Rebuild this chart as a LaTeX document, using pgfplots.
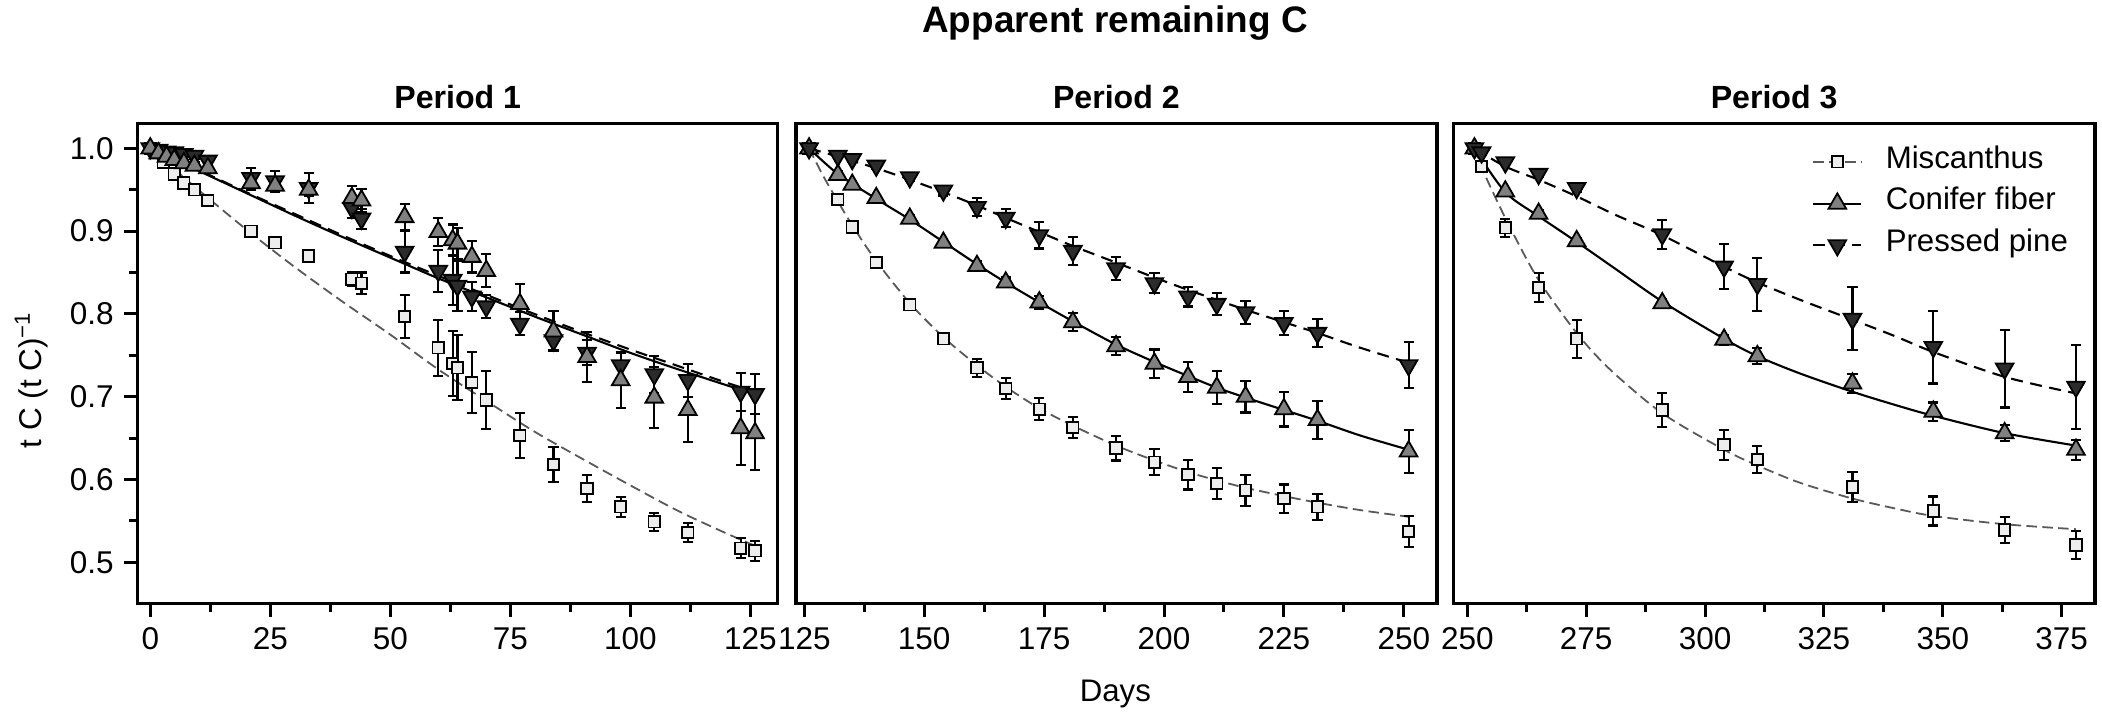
\documentclass[border=0pt]{standalone}
\usepackage{fontspec}
\setmainfont{Liberation Sans}
\usepackage{pgfplots}
\pgfplotsset{compat=1.18}
\usepackage{pgfplotstable}

\definecolor{miscfill}{gray}{0.93}
\definecolor{conifill}{gray}{0.50}
\definecolor{pinefill}{gray}{0.17}
\definecolor{miscline}{gray}{0.35}

% ---------------- Period 1 ----------------
\pgfplotstableread{
x y e
0 1.000 0.002
2.7 0.983 0.004
5 0.969 0.004
7 0.958 0.004
9.2 0.950 0.004
12 0.937 0.004
21 0.900 0.005
26 0.886 0.005
33 0.870 0.005
42 0.842 0.008
44 0.837 0.013
53 0.797 0.026
60 0.759 0.034
63 0.740 0.039
64 0.735 0.039
67 0.717 0.037
70 0.696 0.035
77 0.653 0.027
84 0.618 0.021
91 0.589 0.016
98 0.567 0.012
105 0.549 0.011
112 0.536 0.012
123 0.517 0.012
126 0.514 0.012
}\MiscA
\pgfplotstableread{
x y e
0 1.000 0.003
1.7 0.994 0.003
3.4 0.990 0.003
5 0.986 0.004
7 0.982 0.004
9.2 0.979 0.004
12 0.976 0.004
21 0.958 0.008
26 0.955 0.008
33 0.950 0.008
42 0.940 0.014
44 0.937 0.014
53 0.917 0.016
60 0.899 0.017
63 0.889 0.019
64 0.885 0.019
67 0.869 0.019
70 0.852 0.020
77 0.812 0.024
84 0.779 0.024
91 0.748 0.030
98 0.720 0.034
105 0.699 0.037
112 0.684 0.039
123 0.662 0.045
126 0.656 0.044
}\ConiA
\pgfplotstableread{
x y e
0 1.000 0.003
1.7 0.998 0.003
3.4 0.996 0.003
5 0.995 0.003
7 0.993 0.004
9.2 0.991 0.004
12 0.985 0.005
21 0.964 0.012
26 0.960 0.013
33 0.952 0.018
42 0.928 0.012
44 0.915 0.012
53 0.875 0.025
60 0.852 0.025
63 0.841 0.030
64 0.834 0.030
67 0.821 0.018
70 0.809 0.014
77 0.788 0.014
84 0.768 0.012
91 0.753 0.015
98 0.738 0.015
105 0.727 0.022
112 0.720 0.020
123 0.706 0.023
126 0.703 0.024
}\PineA
\pgfplotstableread{
x y
0 1.000
10 0.950
20 0.902
30 0.857
40 0.815
50 0.775
60 0.733
70 0.695
80 0.658
90 0.625
100 0.593
110 0.562
120 0.535
126 0.520
}\MiscFitA
\pgfplotstableread{
x y
0 1.000
10 0.973
20 0.946
30 0.919
40 0.893
50 0.868
60 0.843
70 0.820
80 0.797
90 0.775
100 0.753
110 0.733
120 0.714
126 0.703
}\ConiFitA
\pgfplotstableread{
x y
0 1.000
10 0.974
20 0.947
30 0.921
40 0.895
50 0.870
60 0.846
70 0.823
80 0.800
90 0.778
100 0.757
110 0.737
120 0.717
126 0.706
}\PineFitA

% ---------------- Period 2 ----------------
\pgfplotstableread{
x y e
126 1.000 0.003
132 0.938 0.004
135 0.905 0.004
140 0.862 0.004
147 0.811 0.005
154 0.770 0.006
161 0.735 0.011
167 0.710 0.013
174 0.685 0.013
181 0.663 0.013
190 0.638 0.015
198 0.621 0.016
205 0.606 0.018
211 0.595 0.019
217 0.587 0.019
225 0.577 0.017
232 0.567 0.016
251 0.537 0.019
}\MiscB
\pgfplotstableread{
x y e
126 1.000 0.003
132 0.968 0.004
135 0.956 0.004
140 0.940 0.004
147 0.915 0.005
154 0.886 0.005
161 0.858 0.006
167 0.838 0.006
174 0.814 0.008
181 0.790 0.011
190 0.761 0.011
198 0.740 0.017
205 0.724 0.018
211 0.711 0.020
217 0.700 0.019
225 0.685 0.021
232 0.672 0.023
251 0.634 0.026
}\ConiB
\pgfplotstableread{
x y e
126 1.000 0.003
132 0.991 0.003
135 0.987 0.003
140 0.979 0.004
147 0.965 0.004
154 0.949 0.006
161 0.929 0.011
167 0.916 0.011
174 0.895 0.016
181 0.876 0.017
190 0.855 0.014
198 0.837 0.012
205 0.821 0.012
211 0.812 0.013
217 0.802 0.014
225 0.789 0.015
232 0.777 0.017
251 0.738 0.028
}\PineB
\pgfplotstableread{
x y
126 1.000
129 0.966
132 0.936
135 0.907
140 0.864
147 0.813
154 0.772
161 0.738
167 0.712
174 0.686
181 0.665
190 0.641
198 0.623
205 0.609
211 0.599
217 0.590
225 0.580
232 0.572
241 0.563
251 0.555
}\MiscFitB
\pgfplotstableread{
x y
126 1.000
132 0.969
140 0.939
147 0.914
154 0.887
161 0.860
167 0.838
174 0.814
181 0.791
190 0.763
198 0.742
205 0.725
211 0.711
217 0.699
225 0.684
232 0.671
241 0.653
251 0.636
}\ConiFitB
\pgfplotstableread{
x y
126 1.000
132 0.990
140 0.976
147 0.962
154 0.947
161 0.931
167 0.916
174 0.899
181 0.882
190 0.862
198 0.844
205 0.829
211 0.817
217 0.805
225 0.790
232 0.777
241 0.759
251 0.741
}\PineFitB

% ---------------- Period 3 ----------------
\pgfplotstableread{
x y e
251.5 1.000 0.003
253 0.978 0.004
258 0.904 0.011
265 0.832 0.0175
273 0.770 0.023
291 0.684 0.0205
304 0.642 0.018
311 0.624 0.0165
331 0.591 0.018
348 0.562 0.0175
363 0.539 0.016
378 0.521 0.017
}\MiscC
\pgfplotstableread{
x y e
251.5 1.000 0.003
258 0.948 0.004
265 0.921 0.004
273 0.888 0.004
291 0.813 0.005
304 0.769 0.006
311 0.749 0.010
331 0.716 0.011
348 0.682 0.011
363 0.656 0.010
378 0.636 0.012
}\ConiC
\pgfplotstableread{
x y e
251.5 1.000 0.003
253 0.995 0.003
258 0.983 0.003
265 0.969 0.004
273 0.952 0.005
291 0.896 0.0175
304 0.857 0.027
311 0.836 0.032
331 0.794 0.038
348 0.760 0.044
363 0.734 0.047
378 0.712 0.051
}\PineC
\pgfplotstableread{
x y
251.5 1.000
253 0.977
255.8 0.942
259.3 0.901
265 0.841
273 0.777
280 0.733
291 0.680
304 0.636
311 0.617
320 0.596
331 0.577
340 0.565
348 0.556
363 0.546
378 0.540
}\MiscFitC
\pgfplotstableread{
x y
251.5 1.000
258 0.947
265 0.918
273 0.887
281 0.855
291 0.815
304 0.770
311 0.749
320 0.728
331 0.706
340 0.690
348 0.677
363 0.656
378 0.641
}\ConiFitC
\pgfplotstableread{
x y
251.5 1.000
258 0.978
265 0.962
273 0.942
281 0.920
291 0.895
304 0.857
311 0.838
320 0.817
331 0.793
340 0.773
348 0.754
363 0.724
378 0.704
}\PineFitC

\pgfplotsset{
  panel/.style={
    scale only axis, height=160pt, anchor=south west,
    ymin=0.4505, ymax=1.0302,
    axis line style={line width=1.2pt},
    tick align=outside, tick pos=left,
    xtick distance=25, minor x tick num=1,
    major tick length=4.5pt, minor tick length=2.9pt,
    every tick/.style={black, line width=1pt},
    ticklabel style={font=\fontsize{10.5}{13}\selectfont},
    /pgf/number format/assume math mode=true,
    title style={font=\bfseries\fontsize{10.7}{13}\selectfont, anchor=base, at={(0.5,1)}, yshift=-1.2pt},
  },
  errb/.style={
    error bars/y dir=both, error bars/y explicit,
    error bars/error bar style={line width=0.7pt, black, solid},
    error bars/error mark options={rotate=90, mark size=1.7pt, line width=0.7pt, black, solid},
  },
  miscpts/.style={only marks, mark=square*, mark size=1.9pt,
    mark options={fill=miscfill, draw=black, line width=0.6pt, solid}, errb},
  conipts/.style={only marks, mark=triangle*, mark size=3.4pt,
    mark options={fill=conifill, draw=black, line width=0.6pt, solid}, errb},
  pinepts/.style={only marks, mark=triangle*, mark size=3.4pt,
    mark options={fill=pinefill, draw=black, line width=0.6pt, solid, rotate=180}, errb},
  miscfit/.style={no marks, smooth, color=miscline, line width=0.6pt, dash pattern=on 3.5pt off 1.8pt},
  conifit/.style={no marks, smooth, color=black, line width=0.7pt},
  pinefit/.style={no marks, smooth, color=black, line width=0.7pt, dash pattern=on 4pt off 2.5pt},
}

\begin{document}
\begin{tikzpicture}
\useasboundingbox (0pt,0pt) rectangle (700.67pt,242pt);

% Period 1
\begin{axis}[panel, at={(45.9pt,40.9pt)}, width=213.33pt,
  xmin=-2.62, xmax=130.71,
  ytick={0.5,0.6,0.7,0.8,0.9,1.0}, minor y tick num=1,
  yticklabel style={/pgf/number format/.cd, fixed, fixed zerofill, precision=1},
  title={Period 1}]
\addplot[miscfit, forget plot] table[x=x,y=y]{\MiscFitA};
\addplot[conifit, forget plot] table[x=x,y=y]{\ConiFitA};
\addplot[pinefit, forget plot] table[x=x,y=y]{\PineFitA};
\addplot[miscpts, forget plot] table[x=x,y=y,y error=e]{\MiscA};
\addplot[pinepts, forget plot] table[x=x,y=y,y error=e]{\PineA};
\addplot[conipts, forget plot] table[x=x,y=y,y error=e]{\ConiA};
\end{axis}

% Period 2
\begin{axis}[panel, at={(265.33pt,40.9pt)}, width=213.57pt,
  xmin=123.27, xmax=256.86,
  ytick=\empty, title={Period 2}]
\addplot[miscfit, forget plot] table[x=x,y=y]{\MiscFitB};
\addplot[conifit, forget plot] table[x=x,y=y]{\ConiFitB};
\addplot[pinefit, forget plot] table[x=x,y=y]{\PineFitB};
\addplot[miscpts, forget plot] table[x=x,y=y,y error=e]{\MiscB};
\addplot[conipts, forget plot] table[x=x,y=y,y error=e]{\ConiB};
\addplot[pinepts, forget plot] table[x=x,y=y,y error=e]{\PineB};
\end{axis}

% Period 3
\begin{axis}[panel, at={(484.43pt,40.9pt)}, width=213.9pt,
  xmin=247.06, xmax=382.0,
  ytick=\empty, title={Period 3},
  legend cell align=left,
  legend image code/.code={\draw[mark repeat=2,mark phase=2,#1] plot coordinates {(0pt,0pt) (8pt,0pt) (16pt,0pt)};},
  legend style={draw=none, fill=none, at={(0.5585,1)}, anchor=north west, yshift=-5.7pt,
    inner sep=0pt, row sep=0pt,
    nodes={inner sep=0pt, text height=9pt, text depth=4.9pt},
    font=\fontsize{10.4}{12}\selectfont,
    /tikz/every odd column/.append style={column sep=7.8pt}}]
\addlegendimage{color=miscline, line width=0.6pt, dash pattern=on 3.5pt off 1.8pt, mark=square*, mark size=1.9pt, mark options={fill=miscfill, draw=black, line width=0.6pt, solid}}
\addlegendentry{Miscanthus}
\addlegendimage{color=black, line width=0.7pt, mark=triangle*, mark size=3.4pt, mark options={fill=conifill, draw=black, line width=0.6pt, solid}}
\addlegendentry{Conifer fiber}
\addlegendimage{color=black, line width=0.7pt, dash pattern=on 4pt off 2.5pt, mark=triangle*, mark size=3.4pt, mark options={fill=pinefill, draw=black, line width=0.6pt, solid, rotate=180}}
\addlegendentry{Pressed pine}
\addplot[miscfit, forget plot] table[x=x,y=y]{\MiscFitC};
\addplot[conifit, forget plot] table[x=x,y=y]{\ConiFitC};
\addplot[pinefit, forget plot] table[x=x,y=y]{\PineFitC};
\addplot[miscpts, forget plot] table[x=x,y=y,y error=e]{\MiscC};
\addplot[conipts, forget plot] table[x=x,y=y,y error=e]{\ConiC};
\addplot[pinepts, forget plot] table[x=x,y=y,y error=e]{\PineC};
\end{axis}

\node[anchor=base, font=\bfseries\fontsize{12.3}{15}\selectfont] at (371.67pt,231.2pt) {Apparent remaining C};
\node[anchor=base, font=\fontsize{10.4}{13}\selectfont] at (371.8pt,8.33pt) {Days};
\node[anchor=base, rotate=90, font=\fontsize{10.5}{13}\selectfont] at (13.9pt,115.33pt) {t C (t C)\textsuperscript{−1}};
\end{tikzpicture}
\end{document}
